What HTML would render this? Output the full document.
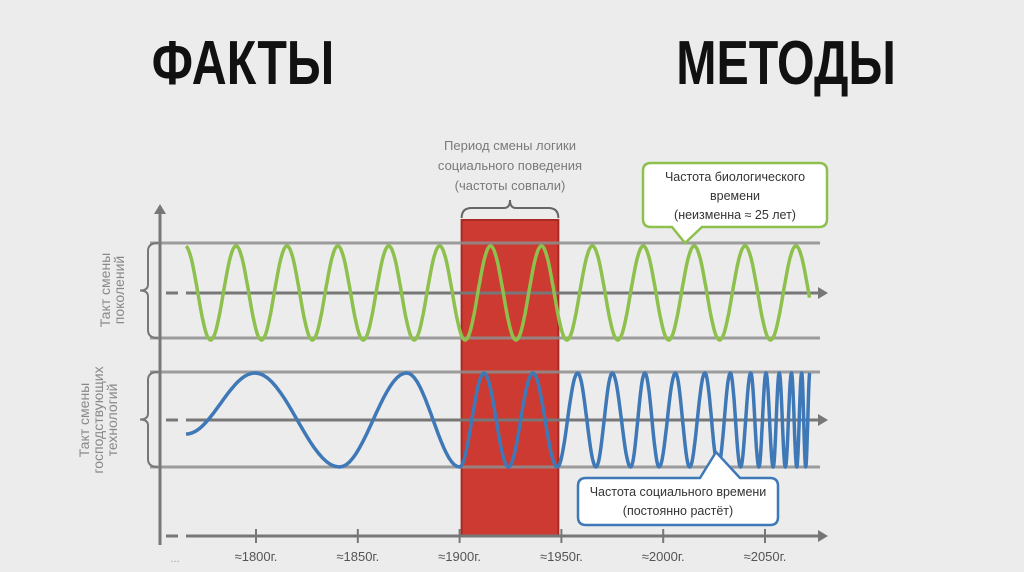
<!DOCTYPE html>
<html><head><meta charset="utf-8"><style>
html,body{margin:0;padding:0;background:#ececec;}
svg{display:block;}
text{font-family:"Liberation Sans",sans-serif;}
</style></head><body>
<svg id="chart" width="1024" height="572" viewBox="0 0 1024 572">
<rect width="1024" height="572" fill="#ececec"/>
<text x="243" y="84" font-size="62" font-weight="bold" text-anchor="middle" fill="#111" transform="translate(243,0) scale(0.78,1) translate(-243,0)">ФАКТЫ</text>
<text x="786" y="84" font-size="62" font-weight="bold" text-anchor="middle" fill="#111" transform="translate(786,0) scale(0.78,1) translate(-786,0)">МЕТОДЫ</text>
<g id="static"></g>
<g id="marks"></g>
</svg>
<script>
const tickYears = [1800, 1850, 1900, 1950, 2000, 2050];
const tickLabels = ["≈1800г.", "≈1850г.", "≈1900г.", "≈1950г.", "≈2000г.", "≈2050г."];
const periodYears = [1901, 1948.5];
const greenPeriod = 25;
const greenPhaseYear = 1790.2;
const greenRange = [1765.6, 2072];
const blueExtremaYears = [1765.6,1799.5,1841,1874,1900,1912,1924,1936,1948,1958,1967,1975,1984,1991,1998,2006,2013,2020.5,2027,2033,2038,2043,2047,2050.5,2054,2057,2060,2063,2065.6,2068,2070,2072];
const blueExtremaValues = [-0.3,1,-1,1,-1,1,-1,1,-1,1,-1,1,-1,1,-1,1,-1,1,-1,1,-1,1,-1,1,-1,1,-1,1,-1,1,-1,1];

const NS="http://www.w3.org/2000/svg";
const xs = y => 256 + (y-1800)*2.036;
const gMid=293, gAmp=47, bMid=420, bAmp=47;
const st=document.getElementById('static'), mk=document.getElementById('marks');
function el(tag, attrs, parent){const e=document.createElementNS(NS,tag);for(const k in attrs)e.setAttribute(k,attrs[k]);(parent||st).appendChild(e);return e;}

let r=el('rect',{x:xs(periodYears[0]),y:220,width:xs(periodYears[1])-xs(periodYears[0]),height:316,fill:'#cc3a31',stroke:'#a82a24','stroke-width':2},st);


const bx0=xs(periodYears[0]), bx1=xs(periodYears[1]), bmid=(bx0+bx1)/2;
let b=el('path',{d:`M${bx0} 218 Q${bx0} 208 ${bx0+10} 208 L${bmid-6} 208 Q${bmid} 208 ${bmid} 200 Q${bmid} 208 ${bmid+6} 208 L${bx1-10} 208 Q${bx1} 208 ${bx1} 218`,fill:'none',stroke:'#666','stroke-width':2});


const ptxt=["Период смены логики","социального поведения","(частоты совпали)"];
ptxt.forEach((t,i)=>{let e=el('text',{x:510,y:150+i*20,'font-size':13,'text-anchor':'middle',fill:'#7a7a7a'});e.textContent=t;

});

[243,338,372,467].forEach(y=>{let l=el('line',{x1:150,x2:820,y1:y,y2:y,stroke:'#8f8f8f','stroke-width':3,opacity:0.85});

});
function arrowLine(y,name){
 let d=el('line',{x1:166,x2:178,y1:y,y2:y,stroke:'#777','stroke-width':3});
 
 
 let l=el('line',{x1:186,x2:820,y1:y,y2:y,stroke:'#777','stroke-width':3});
 
 
 let a=el('path',{d:`M818 ${y-6} L828 ${y} L818 ${y+6} Z`,fill:'#777'});
 
 
}
arrowLine(gMid,'green-mid-axis');arrowLine(bMid,'blue-mid-axis');arrowLine(536,'x-axis');
let va=el('line',{x1:160,x2:160,y1:212,y2:545,stroke:'#777','stroke-width':3});


let vaa=el('path',{d:'M154 214 L160 204 L166 214 Z',fill:'#777'});



tickYears.forEach((yr,i)=>{
 let t=el('line',{x1:xs(yr),x2:xs(yr),y1:529,y2:543,stroke:'#777','stroke-width':2});
 
 
 let tx=el('text',{x:xs(yr),y:561,'font-size':13,'text-anchor':'middle',fill:'#555'});tx.textContent=tickLabels[i];
 
 
});
let dots=el('text',{x:175,y:562,'font-size':11,'text-anchor':'middle',fill:'#999'});dots.textContent='...';



function brace(y1,y2,name){
 const m=(y1+y2)/2;
 let p=el('path',{d:`M158 ${y1} Q148 ${y1} 148 ${y1+8} L148 ${m-6} Q148 ${m} 140 ${m} Q148 ${m} 148 ${m+6} L148 ${y2-8} Q148 ${y2} 158 ${y2}`,fill:'none',stroke:'#777','stroke-width':2});
 
 
}
brace(243,338,'generation-brace');brace(372,467,'technology-brace');
function vlabel(lines,cx,cy,name){
 let g=el('text',{transform:`translate(${cx},${cy}) rotate(-90)`,'font-size':14,'text-anchor':'middle',fill:'#888'});
 
 
 lines.forEach((t,i)=>{let s=el('tspan',{x:0,y:(i-(lines.length-1)/2)*14+5},g);s.textContent=t;});
}
vlabel(["Такт смены","поколений"],112,290,'generation-label');
vlabel(["Такт смены","господствующих","технологий"],98,420,'technology-label');

let gp='';
for(let yr=greenRange[0];yr<=greenRange[1];yr+=0.25){
 const v=Math.cos(2*Math.PI*(yr-greenPhaseYear)/greenPeriod);
 gp+=(gp?'L':'M')+xs(yr).toFixed(1)+' '+(gMid-gAmp*v).toFixed(1);
}
let gw=el('path',{d:gp,fill:'none',stroke:'#8dc04c','stroke-width':3.5,'stroke-linejoin':'round'},mk);


let bp='';
for(let i=0;i<blueExtremaYears.length-1;i++){
 const y0=blueExtremaYears[i],y1=blueExtremaYears[i+1],v0=blueExtremaValues[i],v1=blueExtremaValues[i+1];
 const n=20;
 for(let k=(i?1:0);k<=n;k++){
  const t=k/n, yr=y0+(y1-y0)*t, v=v0+(v1-v0)*(1-Math.cos(Math.PI*t))/2;
  bp+=(bp?'L':'M')+xs(yr).toFixed(1)+' '+(bMid-bAmp*v).toFixed(1);
 }
}
let bw=el('path',{d:bp,fill:'none',stroke:'#3f78b6','stroke-width':3.5,'stroke-linejoin':'round'},mk);



function callout(x,y,w,h,tip,baseX1,baseX2,up,color,lines,name){
 const r=8;
 let d;
 if(!up){
  d=`M${x+r} ${y} H${x+w-r} Q${x+w} ${y} ${x+w} ${y+r} V${y+h-r} Q${x+w} ${y+h} ${x+w-r} ${y+h} H${baseX2} L${tip[0]} ${tip[1]} L${baseX1} ${y+h} H${x+r} Q${x} ${y+h} ${x} ${y+h-r} V${y+r} Q${x} ${y} ${x+r} ${y} Z`;
 } else {
  d=`M${x+r} ${y} H${baseX1} L${tip[0]} ${tip[1]} L${baseX2} ${y} H${x+w-r} Q${x+w} ${y} ${x+w} ${y+r} V${y+h-r} Q${x+w} ${y+h} ${x+w-r} ${y+h} H${x+r} Q${x} ${y+h} ${x} ${y+h-r} V${y+r} Q${x} ${y} ${x+r} ${y} Z`;
 }
 let p=el('path',{d:d,fill:'#fff',stroke:color,'stroke-width':2.5},mk);
 
 
 lines.forEach((t,i)=>{let e=el('text',{x:x+w/2,y:y+18+i*19,'font-size':12.5,'text-anchor':'middle',fill:'#333'},mk);e.textContent=t;
 
 });
}
callout(643,163,184,64,[685,243],672,702,false,'#8dc04c',["Частота биологического","времени","(неизменна ≈ 25 лет)"],'biological-callout');
callout(578,478,200,47,[716,452],700,740,true,'#3f78b6',["Частота социального времени","(постоянно растёт)"],'social-callout');
</script>
</body></html>
